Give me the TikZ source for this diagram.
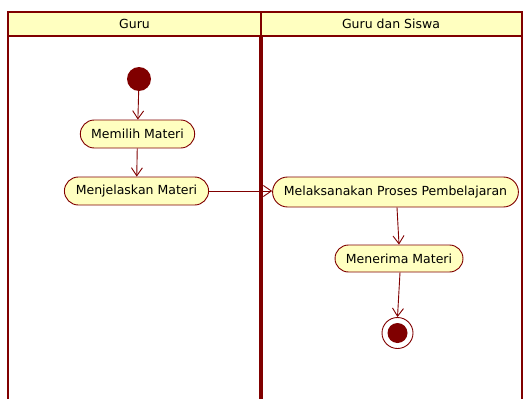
\documentclass[tikz,border=0pt]{standalone}
\usepackage{fontspec}
\setmainfont{DejaVu Sans}
\usetikzlibrary{shapes.misc, arrows.meta}
\definecolor{umlred}{RGB}{128,0,0}
\definecolor{umlfill}{RGB}{255,255,192}
\tikzstyle{lane} = [draw=umlred, line width=2pt]
\tikzstyle{action} = [rounded rectangle, draw=umlred, fill=umlfill, line width=0.9pt, minimum height=28pt, inner xsep=10pt, font=\fontsize{12.5}{14}\selectfont]
\tikzstyle{flow} = [draw=umlred, line width=0.9pt, -{Straight Barb[length=8pt,width=11pt]}]

\begin{document}
\begin{tikzpicture}[x=1pt,y=-1pt]
\useasboundingbox (0,0) rectangle (528,399);

%swimlanes
\fill[umlfill] (7.5,12) rectangle (521.5,36);
\draw[lane] (7.5,399) -- (7.5,12) -- (521.5,12) -- (521.5,399);
\draw[lane] (7.5,36) -- (521.5,36);
\draw[lane] (261,12) -- (261,36);
\draw[draw=umlred, line width=4pt] (261,36) -- (261,399);
\node[font=\fontsize{12.5}{14}\selectfont] (guru) at (134.5,24) {Guru};
\node[font=\fontsize{12.5}{14}\selectfont] (gurusiswa) at (391,24) {Guru dan Siswa};

%start and end
\node[circle, fill=umlred, minimum size=24pt, inner sep=0pt] (start) at (139,79) {};
\node[circle, draw=umlred, line width=0.9pt, fill=white, minimum size=31pt, inner sep=0pt] (end) at (397.5,333) {};
\fill[umlred] (end.center) circle (10pt);

%actions
\node[action] (memilih) at (137.5,134) {Memilih Materi};
\node[action] (menjelaskan) at (136.5,191) {Menjelaskan Materi};
\node[action, minimum height=30pt] (melaksanakan) at (395.5,192) {Melaksanakan Proses Pembelajaran};
\node[action, minimum height=27pt] (menerima) at (399,258.5) {Menerima Materi};

%flows
\draw[flow] (start) -- (memilih);
\draw[flow] (memilih) -- (menjelaskan);
\draw[flow] (menjelaskan.east) -- (melaksanakan.west |- menjelaskan.east);
\draw[flow] (melaksanakan.south -| 397,0) -- (menerima.north);
\draw[flow] (menerima.south -| 400,0) -- (end.north);

\end{tikzpicture}
\end{document}
